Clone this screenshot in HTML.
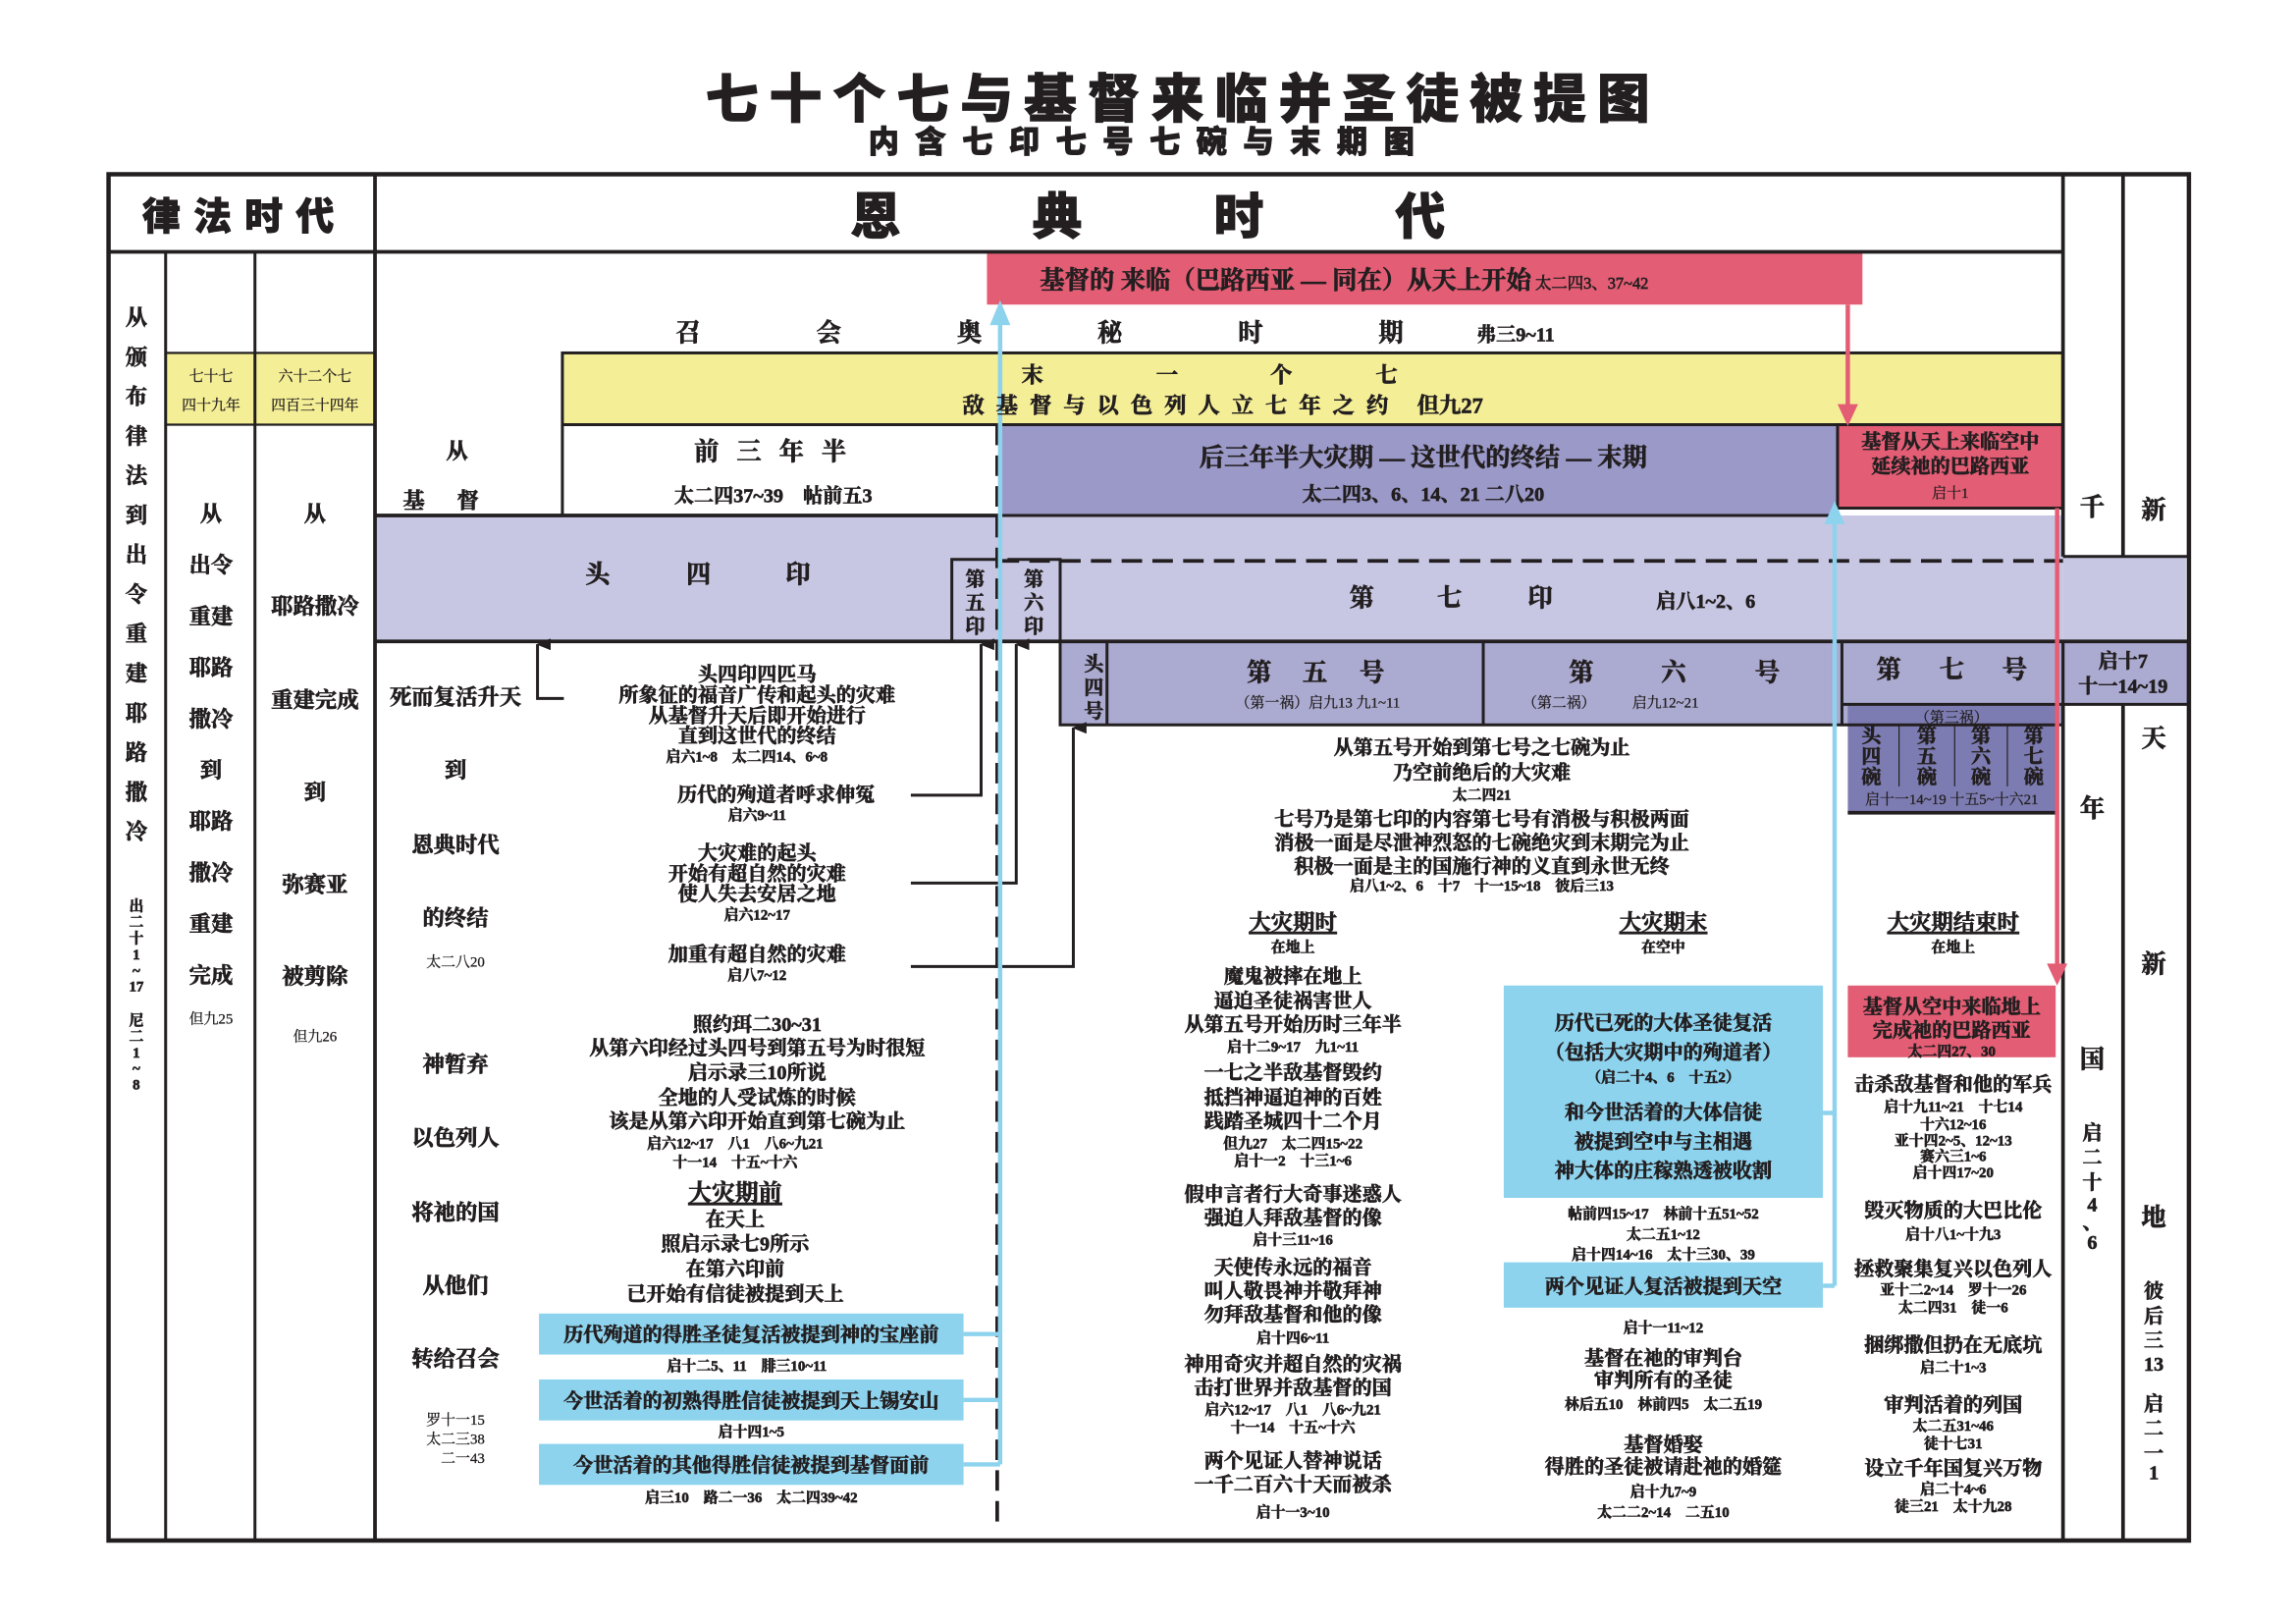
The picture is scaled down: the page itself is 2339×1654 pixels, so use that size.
<!DOCTYPE html>
<html><head><meta charset="utf-8"><style>
html,body{margin:0;padding:0;background:#fff;}
svg{display:block}
text{font-family:"Liberation Serif","Noto Serif CJK SC",serif;font-weight:bold;fill:#231f20;text-anchor:middle;stroke:#231f20;stroke-width:0.45px}
.h{font-family:"Liberation Sans","Noto Sans CJK SC",sans-serif;font-weight:900;stroke-width:0.6px}
.t{font-size:13.5px}
.s{font-size:10px;font-weight:normal;stroke-width:0.2px}
.m{font-size:15px}
.b{font-size:17px}
</style></head><body>
<svg width="2339" height="1654" viewBox="0 0 1568 1109" xmlns="http://www.w3.org/2000/svg">
<defs>
<marker id="ak" markerWidth="8" markerHeight="10" refX="4" refY="1" orient="auto-start-reverse" markerUnits="userSpaceOnUse"><path d="M0,10 L4,0 L8,10 Z" fill="#231f20"/></marker>
</defs>
<text class="h" x="808" y="80" font-size="36" letter-spacing="7.5">七十个七与基督来临并圣徒被提图</text>
<text class="h" x="785" y="104" font-size="21" letter-spacing="11">内含七印七号七碗与末期图</text>

<rect x="674" y="172" width="598" height="36" fill="#e35d74"/>
<rect x="384" y="241" width="1025" height="49" fill="#f4ee96"/>
<rect x="682" y="290" width="573" height="62" fill="#9a99c8"/>
<rect x="1255" y="290" width="154" height="57" fill="#e35d74"/>
<rect x="256" y="352" width="1153" height="86" fill="#c7c7e4"/>
<rect x="1409" y="380" width="84" height="58" fill="#c7c7e4"/>
<rect x="724" y="438" width="685" height="57" fill="#abaad0"/>
<rect x="1258" y="438" width="151" height="43" fill="#abaad0"/>
<rect x="1409" y="438" width="86" height="43" fill="#abaad0"/>
<rect x="1262" y="481" width="142" height="74" fill="#7d7cb2"/>
<rect x="113" y="241" width="61" height="49" fill="#f4ee96"/>
<rect x="174" y="241" width="82" height="49" fill="#f4ee96"/>
<rect x="1027" y="673" width="218" height="145" fill="#8dd3ee"/>
<rect x="1027" y="862" width="218" height="31" fill="#8dd3ee"/>
<rect x="1262" y="673" width="142" height="49" fill="#e35d74"/>
<rect x="368" y="897" width="290" height="28" fill="#8dd3ee"/>
<rect x="368" y="942" width="290" height="28" fill="#8dd3ee"/>
<rect x="368" y="986" width="290" height="28" fill="#8dd3ee"/>

<g stroke="#231f20" fill="none">
<rect x="74" y="119" width="1421" height="933" stroke-width="3"/>
<line x1="74" y1="172" x2="1409" y2="172" stroke-width="2.5"/>
<line x1="256" y1="119" x2="256" y2="1052" stroke-width="2.5"/>
<line x1="113" y1="172" x2="113" y2="1052" stroke-width="2"/>
<line x1="174" y1="172" x2="174" y2="1052" stroke-width="2"/>
<line x1="1409" y1="119" x2="1409" y2="380" stroke-width="2.5"/>
<line x1="1450" y1="119" x2="1450" y2="380" stroke-width="2.5"/>
<line x1="1409" y1="481" x2="1409" y2="1052" stroke-width="2.5"/>
<line x1="1450" y1="481" x2="1450" y2="1052" stroke-width="2.5"/>
<line x1="1409" y1="438" x2="1409" y2="481" stroke-width="2"/>
<line x1="1409" y1="481" x2="1495" y2="481" stroke-width="2"/>
<line x1="1409" y1="380" x2="1495" y2="380" stroke-width="2"/>
<rect x="384" y="241" width="1025" height="49" stroke-width="2"/>
<line x1="384" y1="290" x2="384" y2="352" stroke-width="2"/>
<rect x="113" y="241" width="61" height="49" stroke-width="1.5"/>
<rect x="174" y="241" width="82" height="49" stroke-width="1.5"/>
<line x1="256" y1="352" x2="682" y2="352" stroke-width="2.5"/>
<line x1="682" y1="352" x2="1255" y2="352" stroke-width="2"/>
<rect x="1255" y="290" width="154" height="57" stroke-width="2"/>
<line x1="256" y1="438" x2="1495" y2="438" stroke-width="2.5"/>
<line x1="682" y1="383" x2="1409" y2="383" stroke-width="2.5" stroke-dasharray="14,7"/>
<line x1="681" y1="290" x2="681" y2="1045" stroke-width="2.5" stroke-dasharray="14,7"/>
<path d="M650,438 V382 H680" stroke-width="2"/>
<path d="M688,382 H724 V438" stroke-width="2"/>
<rect x="724" y="438" width="685" height="57" stroke-width="2"/>
<line x1="756" y1="438" x2="756" y2="495" stroke-width="2"/>
<line x1="1013" y1="438" x2="1013" y2="495" stroke-width="2"/>
<line x1="1258" y1="438" x2="1258" y2="495" stroke-width="2"/>
<line x1="1258" y1="481" x2="1409" y2="481" stroke-width="2"/>
<line x1="1262" y1="555" x2="1404" y2="555" stroke-width="2.5"/>
<line x1="1297" y1="495" x2="1297" y2="537" stroke-width="0.8"/>
<line x1="1335" y1="495" x2="1335" y2="537" stroke-width="0.8"/>
<line x1="1371" y1="495" x2="1371" y2="537" stroke-width="0.8"/>
<path d="M385,477 H367 V440" stroke-width="2" marker-end="url(#ak)"/>
<path d="M622,543 H670 V440" stroke-width="2" marker-end="url(#ak)"/>
<path d="M622,603 H694 V440" stroke-width="2" marker-end="url(#ak)"/>
<path d="M622,660 H733 V497" stroke-width="2" marker-end="url(#ak)"/>
</g>
<g stroke="#8dd3ee" stroke-width="3" fill="none">
<line x1="683" y1="1000" x2="683" y2="218"/>
<path d="M658,911 H683 M658,956 H683 M658,1000 H683"/>
<line x1="1253" y1="355" x2="1253" y2="878"/>
<path d="M1245,760 H1253 M1245,878 H1253"/>
</g>
<path d="M676,222 L683,205 L690,222 Z" fill="#8dd3ee"/>
<path d="M1246,358 L1253,342 L1260,358 Z" fill="#8dd3ee"/>
<g stroke="#e35d74" stroke-width="3" fill="none">
<path d="M1262,208 V278"/>
<path d="M1405,347 V660"/>
</g>
<path d="M1255,276 L1262,291 L1269,276 Z" fill="#e35d74"/>
<path d="M1398,658 L1405,673 L1412,658 Z" fill="#e35d74"/>

<text class="h" x="167" y="157" font-size="26" letter-spacing="9">律法时代</text>
<text class="h" x="598" y="160" font-size="34">恩</text>
<text class="h" x="722" y="160" font-size="34">典</text>
<text class="h" x="846" y="160" font-size="34">时</text>
<text class="h" x="970" y="160" font-size="34">代</text>
<text class="b" x="918" y="197">基督的 来临（巴路西亚 — 同在）从天上开始<tspan font-size="11" font-weight="normal"> 太二四3、37~42</tspan></text>
<g class="b" font-size="21">
<text x="470" y="233">召</text><text x="566" y="233">会</text><text x="662" y="233">奥</text><text x="758" y="233">秘</text><text x="854" y="233">时</text><text x="950" y="233">期</text>
</g>
<text class="t" x="1035" y="233">弗三9~11</text>
<g class="m">
<text x="705" y="261">末</text><text x="797" y="261">一</text><text x="875" y="261">个</text><text x="947" y="261">七</text>
<text x="835" y="282" letter-spacing="8">敌基督与以色列人立七年之约 <tspan letter-spacing="0">但九27</tspan></text>
</g>
<text class="b" x="532" y="314" letter-spacing="12">前三年半</text>
<text class="t" x="528" y="343" font-weight="normal">太二四37~39　帖前五3</text>
<text class="b" x="972" y="318">后三年半大灾期 — 这世代的终结 — 末期</text>
<text class="t" x="972" y="342" font-weight="normal">太二四3、6、14、21 二八20</text>
<text class="t" x="1332" y="306">基督从天上来临空中</text>
<text class="t" x="1332" y="323">延续祂的巴路西亚</text>
<text class="s" x="1332" y="340" font-weight="bold">启十1</text>
<text class="m" x="312" y="313">从</text>
<text class="m" x="312" y="347" letter-spacing="22">基督</text>
<g class="b"><text x="408" y="398">头</text><text x="477" y="398">四</text><text x="545" y="398">印</text></g>
<g class="t"><text x="666" y="400">第</text><text x="666" y="416">五</text><text x="666" y="432">印</text>
<text x="706" y="400">第</text><text x="706" y="416">六</text><text x="706" y="432">印</text>
<text x="747" y="458">头</text><text x="747" y="474">四</text><text x="747" y="490">号</text></g>
<g class="b"><text x="930" y="414">第</text><text x="990" y="414">七</text><text x="1052" y="414">印</text></g>
<text class="t" x="1165" y="415">启八1~2、6</text>
<g class="b"><text x="860" y="465">第</text><text x="898" y="465">五</text><text x="937" y="465">号</text>
<text x="1080" y="465">第</text><text x="1143" y="465">六</text><text x="1207" y="465">号</text>
<text x="1290" y="463">第</text><text x="1333" y="463">七</text><text x="1376" y="463">号</text></g>
<text class="s" x="900" y="483" font-weight="bold">（第一祸）启九13 九1~11</text>
<text class="s" x="1100" y="483" font-weight="bold">（第二祸）　　　启九12~21</text>
<text class="t" x="1450" y="456" font-weight="normal">启十7</text>
<text class="t" x="1450" y="473" font-weight="normal">十一14~19</text>
<text class="s" x="1333" y="493" font-weight="bold">（第三祸）</text>
<g class="t" font-size="13">
<text x="1278" y="507">头</text><text x="1278" y="521">四</text><text x="1278" y="535">碗</text>
<text x="1316" y="507">第</text><text x="1316" y="521">五</text><text x="1316" y="535">碗</text>
<text x="1353" y="507">第</text><text x="1353" y="521">六</text><text x="1353" y="535">碗</text>
<text x="1389" y="507">第</text><text x="1389" y="521">七</text><text x="1389" y="535">碗</text>
</g>
<text class="s" x="1333" y="549" font-size="9" font-weight="bold">启十一14~19 十五5~十六21</text>

<g class="m">
<text x="93" y="222">从</text><text x="93" y="249">颁</text><text x="93" y="276">布</text><text x="93" y="303">律</text><text x="93" y="330">法</text><text x="93" y="357">到</text><text x="93" y="384">出</text><text x="93" y="411">令</text><text x="93" y="438">重</text><text x="93" y="465">建</text><text x="93" y="492">耶</text><text x="93" y="519">路</text><text x="93" y="546">撒</text><text x="93" y="573">冷</text>
</g>
<g class="s"><text x="93" y="622">出</text><text x="93" y="633">二</text><text x="93" y="644">十</text><text x="93" y="655">1</text><text x="93" y="666">~</text><text x="93" y="677">17</text><text x="93" y="700">尼</text><text x="93" y="711">二</text><text x="93" y="722">1</text><text x="93" y="733">~</text><text x="93" y="744">8</text></g>
<text class="s" x="144" y="260" font-weight="bold">七十七</text>
<text class="s" x="144" y="280" font-weight="bold">四十九年</text>
<text class="s" x="215" y="260" font-weight="bold">六十二个七</text>
<text class="s" x="215" y="280" font-weight="bold" font-size="9.5">四百三十四年</text>
<g class="m">
<text x="144" y="356">从</text><text x="144" y="391">出令</text><text x="144" y="426">重建</text><text x="144" y="461">耶路</text><text x="144" y="496">撒冷</text><text x="144" y="531">到</text><text x="144" y="566">耶路</text><text x="144" y="601">撒冷</text><text x="144" y="636">重建</text><text x="144" y="671">完成</text>
<text x="215" y="356">从</text><text x="215" y="419">耶路撒冷</text><text x="215" y="483">重建完成</text><text x="215" y="546">到</text><text x="215" y="609">弥赛亚</text><text x="215" y="672">被剪除</text>
<text x="311" y="481">死而复活升天</text><text x="311" y="531">到</text><text x="311" y="582">恩典时代</text><text x="311" y="632">的终结</text>
<text x="311" y="732">神暂弃</text><text x="311" y="782">以色列人</text><text x="311" y="833">将祂的国</text><text x="311" y="883">从他们</text><text x="311" y="933">转给召会</text>
</g>
<text class="s" x="144" y="699" font-weight="bold" font-size="11">但九25</text>
<text class="s" x="215" y="711" font-weight="bold" font-size="11">但九26</text>
<text class="s" x="311" y="660" font-weight="bold" font-size="11">太二八20</text>
<text class="s" x="311" y="973">罗十一15</text>
<text class="s" x="311" y="986">太二三38</text>
<text class="s" x="311" y="999">　二一43</text>

<g class="t">
<text x="517" y="465">头四印四匹马</text>
<text x="517" y="479">所象征的福音广传和起头的灾难</text>
<text x="517" y="493">从基督升天后即开始进行</text>
<text x="517" y="507">直到这世代的终结</text>
<text x="530" y="547">历代的殉道者呼求伸冤</text>
<text x="517" y="587">大灾难的起头</text>
<text x="517" y="601">开始有超自然的灾难</text>
<text x="517" y="615">使人失去安居之地</text>
<text x="517" y="656">加重有超自然的灾难</text>
<text x="517" y="704">照约珥二30~31</text>
<text x="517" y="720">从第六印经过头四号到第五号为时很短</text>
<text x="517" y="737">启示录三10所说</text>
<text x="517" y="754">全地的人受试炼的时候</text>
<text x="517" y="770">该是从第六印开始直到第七碗为止</text>
<text x="502" y="820" font-size="16" text-decoration="underline">大灾期前</text>
<text x="502" y="837">在天上</text>
<text x="502" y="854">照启示录七9所示</text>
<text x="502" y="871">在第六印前</text>
<text x="502" y="888">已开始有信徒被提到天上</text>
<text x="513" y="916">历代殉道的得胜圣徒复活被提到神的宝座前</text>
<text x="513" y="961">今世活着的初熟得胜信徒被提到天上锡安山</text>
<text x="513" y="1005">今世活着的其他得胜信徒被提到基督面前</text>
</g>
<g class="s">
<text x="510" y="520">启六1~8　太二四14、6~8</text>
<text x="517" y="560">启六9~11</text>
<text x="517" y="628">启六12~17</text>
<text x="517" y="669">启八7~12</text>
<text x="502" y="784">启六12~17　八1　八6~九21</text>
<text x="502" y="797">十一14　十五~十六</text>
<text x="510" y="936">启十二5、11　腓三10~11</text>
<text x="513" y="981">启十四1~5</text>
<text x="513" y="1026">启三10　路二一36　太二四39~42</text>
</g>

<g class="t">
<text x="1012" y="515">从第五号开始到第七号之七碗为止</text>
<text x="1012" y="532">乃空前绝后的大灾难</text>
<text x="1012" y="564">七号乃是第七印的内容第七号有消极与积极两面</text>
<text x="1012" y="580">消极一面是尽泄神烈怒的七碗绝灾到末期完为止</text>
<text x="1012" y="596">积极一面是主的国施行神的义直到永世无终</text>
<text x="883" y="635" font-size="15" text-decoration="underline">大灾期时</text>
<text x="1136" y="635" font-size="15" text-decoration="underline">大灾期末</text>
<text x="1334" y="635" font-size="15" text-decoration="underline">大灾期结束时</text>
<text x="883" y="671">魔鬼被摔在地上</text>
<text x="883" y="688">逼迫圣徒祸害世人</text>
<text x="883" y="704">从第五号开始历时三年半</text>
<text x="883" y="737">一七之半敌基督毁约</text>
<text x="883" y="754">抵挡神逼迫神的百姓</text>
<text x="883" y="770">践踏圣城四十二个月</text>
<text x="883" y="820">假申言者行大奇事迷惑人</text>
<text x="883" y="836">强迫人拜敌基督的像</text>
<text x="883" y="870">天使传永远的福音</text>
<text x="883" y="886">叫人敬畏神并敬拜神</text>
<text x="883" y="902">勿拜敌基督和他的像</text>
<text x="883" y="936">神用奇灾并超自然的灾祸</text>
<text x="883" y="952">击打世界并敌基督的国</text>
<text x="883" y="1002">两个见证人替神说话</text>
<text x="883" y="1018">一千二百六十天而被杀</text>
<text x="1136" y="703">历代已死的大体圣徒复活</text>
<text x="1136" y="723">（包括大灾期中的殉道者）</text>
<text x="1136" y="764">和今世活着的大体信徒</text>
<text x="1136" y="784">被提到空中与主相遇</text>
<text x="1136" y="804">神大体的庄稼熟透被收割</text>
<text x="1136" y="883">两个见证人复活被提到天空</text>
<text x="1136" y="932">基督在祂的审判台</text>
<text x="1136" y="947">审判所有的圣徒</text>
<text x="1136" y="991">基督婚娶</text>
<text x="1136" y="1006">得胜的圣徒被请赴祂的婚筵</text>
<text x="1333" y="692">基督从空中来临地上</text>
<text x="1333" y="708">完成祂的巴路西亚</text>
<text x="1334" y="745">击杀敌基督和他的军兵</text>
<text x="1334" y="831">毁灭物质的大巴比伦</text>
<text x="1334" y="871">拯救聚集复兴以色列人</text>
<text x="1334" y="923">捆绑撒但扔在无底坑</text>
<text x="1334" y="964">审判活着的列国</text>
<text x="1334" y="1007">设立千年国复兴万物</text>
</g>
<g class="s">
<text x="1012" y="546">太二四21</text>
<text x="1012" y="608">启八1~2、6　十7　十一15~18　彼后三13</text>
<text x="883" y="650" font-weight="bold">在地上</text>
<text x="1136" y="650" font-weight="bold">在空中</text>
<text x="1334" y="650" font-weight="bold">在地上</text>
<text x="883" y="718">启十二9~17　九1~11</text>
<text x="883" y="784">但九27　太二四15~22</text>
<text x="883" y="796">启十一2　十三1~6</text>
<text x="883" y="850">启十三11~16</text>
<text x="883" y="917">启十四6~11</text>
<text x="883" y="966">启六12~17　八1　八6~九21</text>
<text x="883" y="978">十一14　十五~十六</text>
<text x="883" y="1036">启十一3~10</text>
<text x="1136" y="739">（启二十4、6　十五2）</text>
<text x="1136" y="832">帖前四15~17　林前十五51~52</text>
<text x="1136" y="846">太二五1~12</text>
<text x="1136" y="860">启十四14~16　太十三30、39</text>
<text x="1136" y="910">启十一11~12</text>
<text x="1136" y="962">林后五10　林前四5　太二五19</text>
<text x="1136" y="1022">启十九7~9</text>
<text x="1136" y="1036">太二二2~14　二五10</text>
<text x="1333" y="721" font-weight="bold">太二四27、30</text>
<text x="1334" y="759">启十九11~21　十七14</text>
<text x="1334" y="771">十六12~16</text>
<text x="1334" y="782">亚十四2~5、12~13</text>
<text x="1334" y="793">赛六三1~6</text>
<text x="1334" y="804">启十四17~20</text>
<text x="1334" y="846">启十八1~十九3</text>
<text x="1334" y="884">亚十二2~14　罗十一26</text>
<text x="1334" y="896">太二四31　徒一6</text>
<text x="1334" y="937">启二十1~3</text>
<text x="1334" y="977">太二五31~46</text>
<text x="1334" y="989">徒十七31</text>
<text x="1334" y="1020">启二十4~6</text>
<text x="1334" y="1032">徒三21　太十九28</text>
</g>

<g class="b" font-size="19">
<text x="1429" y="352">千</text><text x="1429" y="558">年</text><text x="1429" y="729">国</text>
<text x="1471" y="354">新</text><text x="1471" y="510">天</text><text x="1471" y="664">新</text><text x="1471" y="837">地</text>
</g>
<g class="t" font-weight="normal">
<text x="1429" y="778">启</text><text x="1429" y="795">二</text><text x="1429" y="812">十</text><text x="1429" y="827">4</text><text x="1429" y="839">、</text><text x="1429" y="853">6</text>
<text x="1471" y="886">彼</text><text x="1471" y="903">后</text><text x="1471" y="920">三</text><text x="1471" y="936">13</text><text x="1471" y="963">启</text><text x="1471" y="980">二</text><text x="1471" y="997">一</text><text x="1471" y="1010">1</text>
</g>
</svg>
</body></html>
